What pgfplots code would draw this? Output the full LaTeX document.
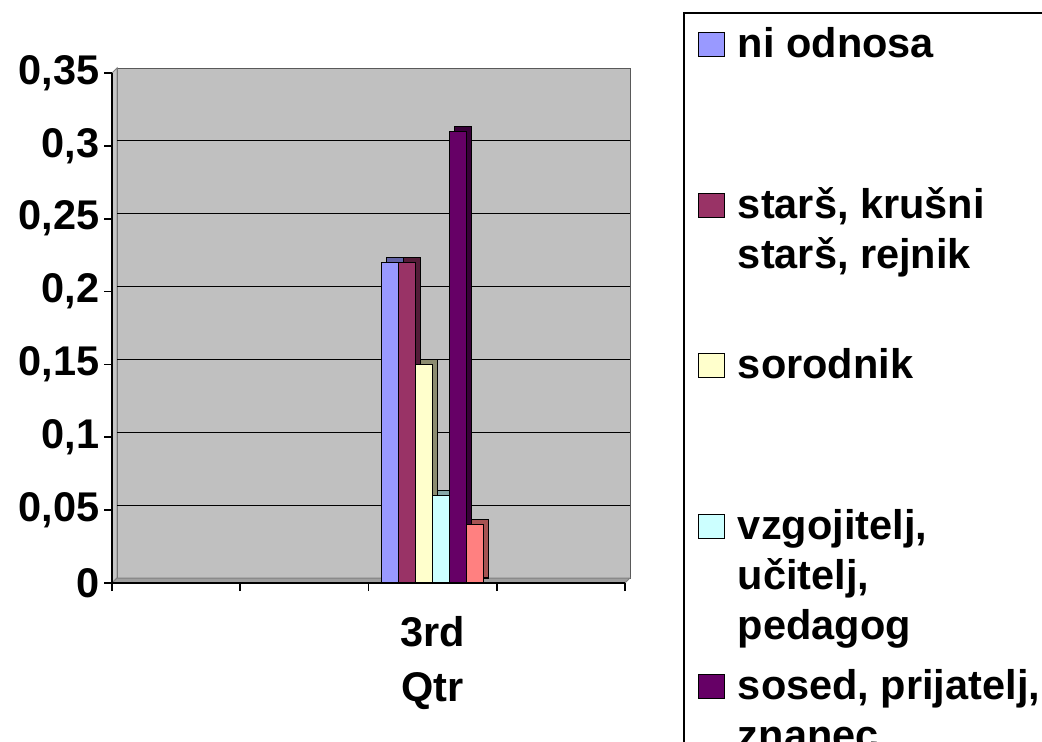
\documentclass[border=0pt]{standalone}
\usepackage{pgfplots}
\pgfplotsset{compat=1.18}
\usepackage{pgfplotstable}
\usepackage{fontspec}
\setmainfont{Liberation Sans}
\definecolor{wall}{HTML}{C0C0C0}
\definecolor{c1}{HTML}{9999FF}
\definecolor{c2}{HTML}{993366}
\definecolor{c3}{HTML}{FFFFCC}
\definecolor{c4}{HTML}{CCFFFF}
\definecolor{c5}{HTML}{660066}
\definecolor{c6}{HTML}{FF8080}
\pgfplotstableread{
x a b c d e f
2 0.22 0.22 0.15 0.06 0.31 0.04
}\data
\newcommand\bigfont{\fontsize{20.75}{25}\selectfont\bfseries}
\pgfplotsset{
  barbase/.style={ybar, bar width=8.5pt, draw=black, line width=0.6pt},
  depthface/.style={forget plot, xshift=2.5pt, yshift=2.5pt},
  legimg/.style={legend image code/.code={\draw[##1, line width=0.6pt] (0pt,-7pt) rectangle (13pt,5pt);}},
  legimglast/.style={legend image code/.code={\draw[##1, line width=0.6pt] (0pt,-7pt) rectangle (13pt,5pt); \path (0pt,-50pt);}},
}
\begin{document}
\begin{tikzpicture}
\begin{axis}[
  set layers,
  at={(56pt,-291.5pt)}, anchor=south west,
  scale only axis, width=256.5pt, height=255pt,
  xmin=-0.5, xmax=3.5, ymin=0, ymax=0.35,
  axis x line*=bottom, axis y line*=left,
  axis line style={-, black, line width=0.9pt},
  xtick={-0.5,0.5,1.5,2.5,3.5}, xticklabels={},
  extra x ticks={2}, extra x tick labels={3rd\\Qtr},
  extra x tick style={major tick length=0pt, xticklabel style={align=center, yshift=-13pt, font=\fontsize{20.75}{27.5}\selectfont\bfseries}},
  ytick={0,0.05,0.1,0.15,0.2,0.25,0.3,0.35},
  extra y ticks={0.05,0.1,0.15,0.2,0.25,0.3}, extra y tick labels={},
  extra y tick style={major tick length=0pt, grid=major},
  major grid style={black, line width=0.6pt, xshift=2.5pt, yshift=2.5pt},
  tick align=outside, major tick length=4pt,
  tick style={black, line width=0.9pt},
  tick label style={font=\bigfont},
  yticklabel style={/pgf/number format/fixed, inner sep=2pt},
  /pgf/number format/use comma,
  /pgf/number format/assume math mode=true,
  legend cell align=left,
  legend style={at={(1.1131,1.1196)}, anchor=north west, draw=black, line width=0.75pt,
    fill=white, font=\bigfont, inner xsep=7pt, inner ysep=4.5pt, row sep=59.25pt,
    nodes={inner sep=0pt, text height=18pt, text depth=3pt},
    /tikz/every odd column/.append style={column sep=6.5pt}},
]
\begin{pgfonlayer}{axis background}
\filldraw[fill=wall, draw=gray!70!black, line width=0.5pt] ([shift={(2.5pt,2.5pt)}]rel axis cs:0,0) rectangle ([shift={(2.5pt,2.5pt)}]rel axis cs:1,1);
\filldraw[fill=gray!45, draw=gray, line width=0.5pt] (rel axis cs:0,0) -- (rel axis cs:0,1) -- ([shift={(2.5pt,2.5pt)}]rel axis cs:0,1) -- ([shift={(2.5pt,2.5pt)}]rel axis cs:0,0) -- cycle;
\filldraw[fill=gray!75, draw=gray, line width=0.5pt] (rel axis cs:0,0) -- (rel axis cs:1,0) -- ([shift={(2.5pt,2.5pt)}]rel axis cs:1,0) -- ([shift={(2.5pt,2.5pt)}]rel axis cs:0,0) -- cycle;
\end{pgfonlayer}
% 3D depth (side and top faces)
\addplot[barbase, depthface, bar shift=-21.25pt, fill=c1!65!black] table[x=x,y=a]{\data};
\addplot[barbase, depthface, bar shift=-12.75pt, fill=c2!55!black] table[x=x,y=b]{\data};
\addplot[barbase, depthface, bar shift=-4.25pt, fill=c3!55!black] table[x=x,y=c]{\data};
\addplot[barbase, depthface, bar shift=4.25pt, fill=c4!65!black] table[x=x,y=d]{\data};
\addplot[barbase, depthface, bar shift=12.75pt, fill=c5!55!black] table[x=x,y=e]{\data};
\addplot[barbase, depthface, bar shift=21.25pt, fill=c6!65!black] table[x=x,y=f]{\data};
% front faces
\addplot[barbase, bar shift=-21.25pt, fill=c1, legimg] table[x=x,y=a]{\data};
\addlegendentry{\begin{tabular}[t]{@{}l@{}}ni odnosa\end{tabular}}
\addplot[barbase, bar shift=-12.75pt, fill=c2, legimg] table[x=x,y=b]{\data};
\addlegendentry{\begin{tabular}[t]{@{}l@{}}starš, krušni\\ starš, rejnik\end{tabular}}
\addplot[barbase, bar shift=-4.25pt, fill=c3, legimg] table[x=x,y=c]{\data};
\addlegendentry{\begin{tabular}[t]{@{}l@{}}sorodnik\end{tabular}}
\addplot[barbase, bar shift=4.25pt, fill=c4, legimg] table[x=x,y=d]{\data};
\addlegendentry{\begin{tabular}[t]{@{}l@{}}vzgojitelj,\\ učitelj,\\ pedagog\end{tabular}}
\addplot[barbase, bar shift=12.75pt, fill=c5, legimglast] table[x=x,y=e]{\data};
\addlegendentry{\begin{tabular}[t]{@{}l@{}}sosed, prijatelj,\\ znanec\end{tabular}}
\addplot[barbase, bar shift=21.25pt, fill=c6, forget plot] table[x=x,y=f]{\data};
\end{axis}
\pgfresetboundingbox
\useasboundingbox (0,0) rectangle (521pt,-371pt);
\end{tikzpicture}
\end{document}
